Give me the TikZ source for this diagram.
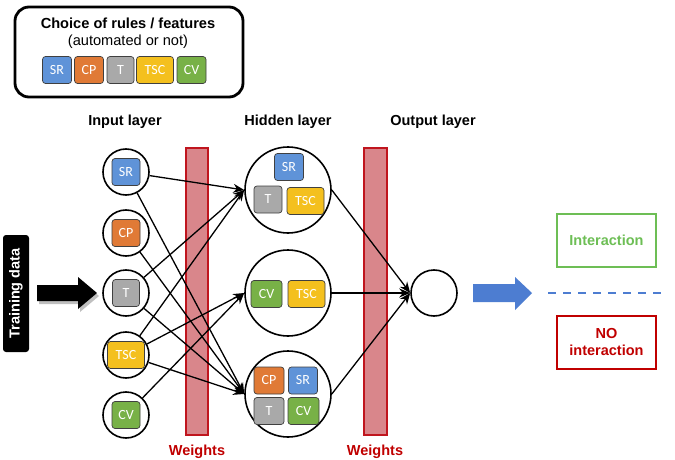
\documentclass[tikz,border=0pt]{standalone}
\usepackage{fontspec}
\setmainfont{Liberation Sans}
\newfontfamily\chipfont{Carlito}
\usetikzlibrary{arrows.meta}
\definecolor{srcol}{HTML}{5F93D8}
\definecolor{cpcol}{HTML}{E07A36}
\definecolor{tcol}{HTML}{A9A9A9}
\definecolor{tsccol}{HTML}{F4C01E}
\definecolor{cvcol}{HTML}{78B147}
\definecolor{barfill}{HTML}{D9868B}
\definecolor{barline}{HTML}{C0151E}
\definecolor{darkred}{HTML}{C00000}
\definecolor{intgreen}{HTML}{6DBE55}
\definecolor{bluearrow}{HTML}{4D7DD1}
\tikzset{
  chip/.style={draw=black!75, line width=0.7pt, rounded corners=3pt, text=white,
    font=\chipfont\fontsize{14}{14}\selectfont, minimum height=27pt, inner sep=0pt},
  chipw/.style={chip, minimum width=29pt},
  chipwide/.style={chip, minimum width=37pt},
  incirc/.style={draw, circle, line width=1.6pt, minimum size=46pt, inner sep=0pt},
  hidcirc/.style={draw, circle, line width=1.6pt, minimum size=86pt, inner sep=0pt},
  edge/.style={line width=1.3pt, -{Stealth[length=11pt,width=9pt]}},
  heading/.style={font=\bfseries\fontsize{14.5}{14.5}\selectfont},
  weightbar/.style={draw=barline, fill=barfill, line width=1.4pt},
  wlabel/.style={font=\bfseries\fontsize{14.5}{14.5}\selectfont, text=darkred},
}
\begin{document}
\begin{tikzpicture}[x=1pt,y=-1pt]
\useasboundingbox (0,0) rectangle (675,460);

% top box
\draw[line width=2.8pt, rounded corners=14pt] (15,7) rectangle (243,97);
\node[font=\bfseries\fontsize{14.6}{14.6}\selectfont] (title) at (128,23) {Choice of rules / features};
\node[font=\fontsize{14.6}{14.6}\selectfont] (subtitle) at (128,42) {(automated or not)};
\node[chipw, fill=srcol] (tSR) at (57,70) {SR};
\node[chipw, fill=cpcol] (tCP) at (89,70) {CP};
\node[chip, fill=tcol, minimum width=27pt] (tT) at (120.5,70) {T};
\node[chipwide, fill=tsccol] (tTSC) at (155,70) {TSC};
\node[chipw, fill=cvcol] (tCV) at (191.5,70) {CV};

% layer headings
\node[heading] (lin) at (125,122) {Input layer};
\node[heading] (lhid) at (288,122) {Hidden layer};
\node[heading] (lout) at (433,122) {Output layer};

% weight bars
\draw[weightbar] (186,148) rectangle (208,435);
\draw[weightbar] (364,148) rectangle (387,435);
\node[wlabel] (w1) at (197,452) {Weights};
\node[wlabel] (w2) at (375,452) {Weights};

% training data
\node[fill=black, rounded corners=3pt, minimum width=26pt, minimum height=117pt, inner sep=0pt] (train) at (16,293.5) {};
\node[rotate=90, text=white, font=\bfseries\fontsize{14.5}{14.5}\selectfont] (traintxt) at (16,293.5) {Training data};
\fill[black!25] (39,288) -- (80,288) -- (80,280) -- (99,296) -- (80,312) -- (80,304) -- (39,304) -- cycle;
\fill[black] (37,285) -- (78,285) -- (78,277) -- (97,293) -- (78,309) -- (78,301) -- (37,301) -- cycle;

% input layer
\node[incirc] (inSR) at (126,172) {};
\node[incirc] (inCP) at (126,233) {};
\node[incirc] (inT) at (126,293) {};
\node[incirc] (inTSC) at (126,355) {};
\node[incirc] (inCV) at (126,415) {};
\node[chip, fill=srcol, minimum width=28pt] (iSR) at (inSR) {SR};
\node[chip, fill=cpcol, minimum width=28pt] (iCP) at (inCP) {CP};
\node[chip, fill=tcol, minimum width=27pt] (iT) at (inT) {T};
\node[chip, fill=tsccol, minimum width=37pt] (iTSC) at (inTSC) {TSC};
\node[chip, fill=cvcol, minimum width=28pt] (iCV) at (inCV) {CV};

% hidden layer
\node[hidcirc] (h1) at (288,190) {};
\node[hidcirc] (h2) at (288,293) {};
\node[hidcirc] (h3) at (288,394) {};
\node[chipw, fill=srcol] (h1SR) at (289,167) {SR};
\node[chip, fill=tcol, minimum width=28pt] (h1T) at (268,199.5) {T};
\node[chipwide, fill=tsccol] (h1TSC) at (305.5,201) {TSC};
\node[chip, fill=cvcol, minimum width=31pt] (h2CV) at (266.5,294) {CV};
\node[chipwide, fill=tsccol] (h2TSC) at (306.5,294) {TSC};
\node[chip, fill=cpcol, minimum width=30pt] (h3CP) at (269,380.5) {CP};
\node[chipw, fill=srcol] (h3SR) at (303,380.5) {SR};
\node[chip, fill=tcol, minimum width=30pt] (h3T) at (269,411) {T};
\node[chip, fill=cvcol, minimum width=31pt] (h3CV) at (303.5,411) {CV};

% output
\node[incirc] (out) at (434,293) {};

% input -> hidden edges
\draw[edge] (inSR) -- (h1.west);
\draw[edge] (inT) -- (h1.west);
\draw[edge] (inTSC) -- (h1.west);
\draw[edge] (inTSC) -- (h2.west);
\draw[edge] (inCV) -- (h2.west);
\draw[edge] (inSR) -- (h3.west);
\draw[edge] (inCP) -- (h3.west);
\draw[edge] (inT) -- (h3.west);
\draw[edge] (inTSC) -- (h3.west);

% hidden -> output
\draw[edge] (h1.east) -- (out.west);
\draw[edge] (h2.east) -- (out.west);
\draw[edge] (h3.east) -- (out.west);

% blue arrow
\fill[bluearrow] (473,284) -- (515,284) -- (515,277) -- (532,293) -- (515,310) -- (515,302) -- (473,302) -- cycle;
\coordinate (dashA) at (548,293);
\coordinate (dashB) at (662,293);
\draw[bluearrow, line width=2pt, dash pattern=on 8pt off 7pt] (dashA) -- (dashB);

% result boxes
\node[draw=intgreen, line width=1.4pt, minimum width=99pt, minimum height=53pt, text=intgreen, font=\bfseries\fontsize{14.5}{14.5}\selectfont] (inter) at (606.5,240.5) {Interaction};
\node[draw=darkred, line width=1.4pt, minimum width=99pt, minimum height=53pt, text=darkred, font=\bfseries\fontsize{14.5}{17}\selectfont, align=center] (nointer) at (606.5,342.5) {NO\\interaction};
\end{tikzpicture}
\end{document}
